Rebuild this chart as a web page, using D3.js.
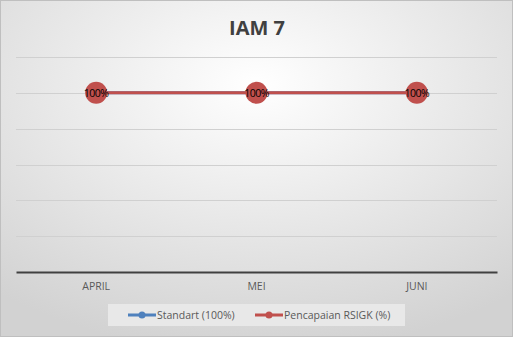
<!DOCTYPE html>
<html lang="en">
<head>
<meta charset="utf-8">
<title>IAM 7</title>
<script src="https://cdn.jsdelivr.net/npm/d3@7"></script>
<style>
  body { margin: 0; background: #fff; }
  text { font-family: "Open Sans", "Liberation Sans", sans-serif; }
</style>
</head>
<body>
<script>
// data
var months = ["APRIL", "MEI", "JUNI"];
var standart = [100, 100, 100];
var pencapaian = [100, 100, 100];
var yTicks = [0, 20, 40, 60, 80, 100, 120];
var seriesNames = ["Standart (100%)", "Pencapaian RSIGK (%)"];
var seriesColors = ["#4f81bd", "#c0504d"];

var w = 513, h = 337;
var svg = d3.select("body").append("svg")
  .attr("width", w)
  .attr("height", h);

/* background gradient */
var defs = svg.append("defs");
var grad = defs.append("radialGradient")
  .attr("id", "bg")
  .attr("cx", "50%").attr("cy", "25%").attr("r", "80%");
grad.append("stop").attr("offset", "0%").attr("stop-color", "#ffffff");
grad.append("stop").attr("offset", "100%").attr("stop-color", "#d2d2d2");

svg.append("rect")
  .attr("x", 0.5).attr("y", 0.5)
  .attr("width", w - 1).attr("height", h - 1)
  .attr("fill", "url(#bg)")
  .attr("stroke", "#bfbfbf");

// title
svg.append("text")
  .attr("x", 257).attr("y", 35)
  .attr("text-anchor", "middle")
  .attr("font-size", "20px")
  .attr("font-weight", "bold")
  .attr("fill", "#404040")
  .text("IAM 7");

var plotL = 16, plotR = 497, plotT = 57, plotB = 272;

var xScale = d3.scaleBand().domain(months).range([plotL, plotR]);
var yScale = d3.scaleLinear().domain([0, 120]).range([plotB, plotT]);

// gridlines
svg.selectAll(".grid")
  .data(yTicks.slice(1))
  .enter()
  .append("line")
  .attr("x1", plotL).attr("x2", plotR)
  .attr("y1", function(d) { return Math.round(yScale(d)) + 0.5; })
  .attr("y2", function(d) { return Math.round(yScale(d)) + 0.5; })
  .attr("stroke", "#d0d0d0")
  .attr("stroke-width", 1);

// x axis
var xAxis = svg.append("g")
  .attr("transform", "translate(0," + plotB + ")")
  .call(d3.axisBottom(xScale).tickSize(0).tickPadding(11));
xAxis.select(".domain").attr("stroke", "#404040").attr("stroke-width", 2);
xAxis.selectAll("text")
  .attr("font-size", "10.5px")
  .attr("fill", "#595959")
  .style("font-family", "'Open Sans', 'Liberation Sans', sans-serif");

function cx(d, i) { return xScale(months[i]) + xScale.bandwidth() / 2; }

var line = d3.line()
  .x(function(d, i) { return cx(d, i); })
  .y(function(d) { return yScale(d); });

[standart, pencapaian].forEach(function(series, s) {
  svg.append("path")
    .datum(series)
    .attr("d", line)
    .attr("fill", "none")
    .attr("stroke", seriesColors[s])
    .attr("stroke-width", 3);
  svg.selectAll(".pt" + s)
    .data(series)
    .enter()
    .append("circle")
    .attr("cx", cx)
    .attr("cy", function(d) { return yScale(d); })
    .attr("r", s === 0 ? 5 : 11)
    .attr("fill", seriesColors[s]);
});

// data labels
svg.selectAll(".lbl")
  .data(pencapaian)
  .enter()
  .append("text")
  .attr("x", cx)
  .attr("y", function(d) { return yScale(d) + 4; })
  .attr("text-anchor", "middle")
  .attr("font-size", "10.5px")
  .attr("letter-spacing", "-0.5px")
  .attr("fill", "#000")
  .text(function(d) { return d + "%"; });

// legend
svg.append("rect")
  .attr("x", 108).attr("y", 304)
  .attr("width", 297).attr("height", 22)
  .attr("fill", "#e8e8e8");

var legendX = [128, 255];
seriesNames.forEach(function(name, i) {
  var g = svg.append("g").attr("transform", "translate(" + legendX[i] + ",315)");
  g.append("line")
    .attr("x1", 0).attr("x2", 28)
    .attr("stroke", seriesColors[i]).attr("stroke-width", 3);
  g.append("circle").attr("cx", 14).attr("r", 3.5).attr("fill", seriesColors[i]);
  g.append("text")
    .attr("x", 29).attr("y", 4)
    .attr("font-size", "10.5px")
    .attr("fill", "#595959")
    .text(name);
});
</script>
</body>
</html>
